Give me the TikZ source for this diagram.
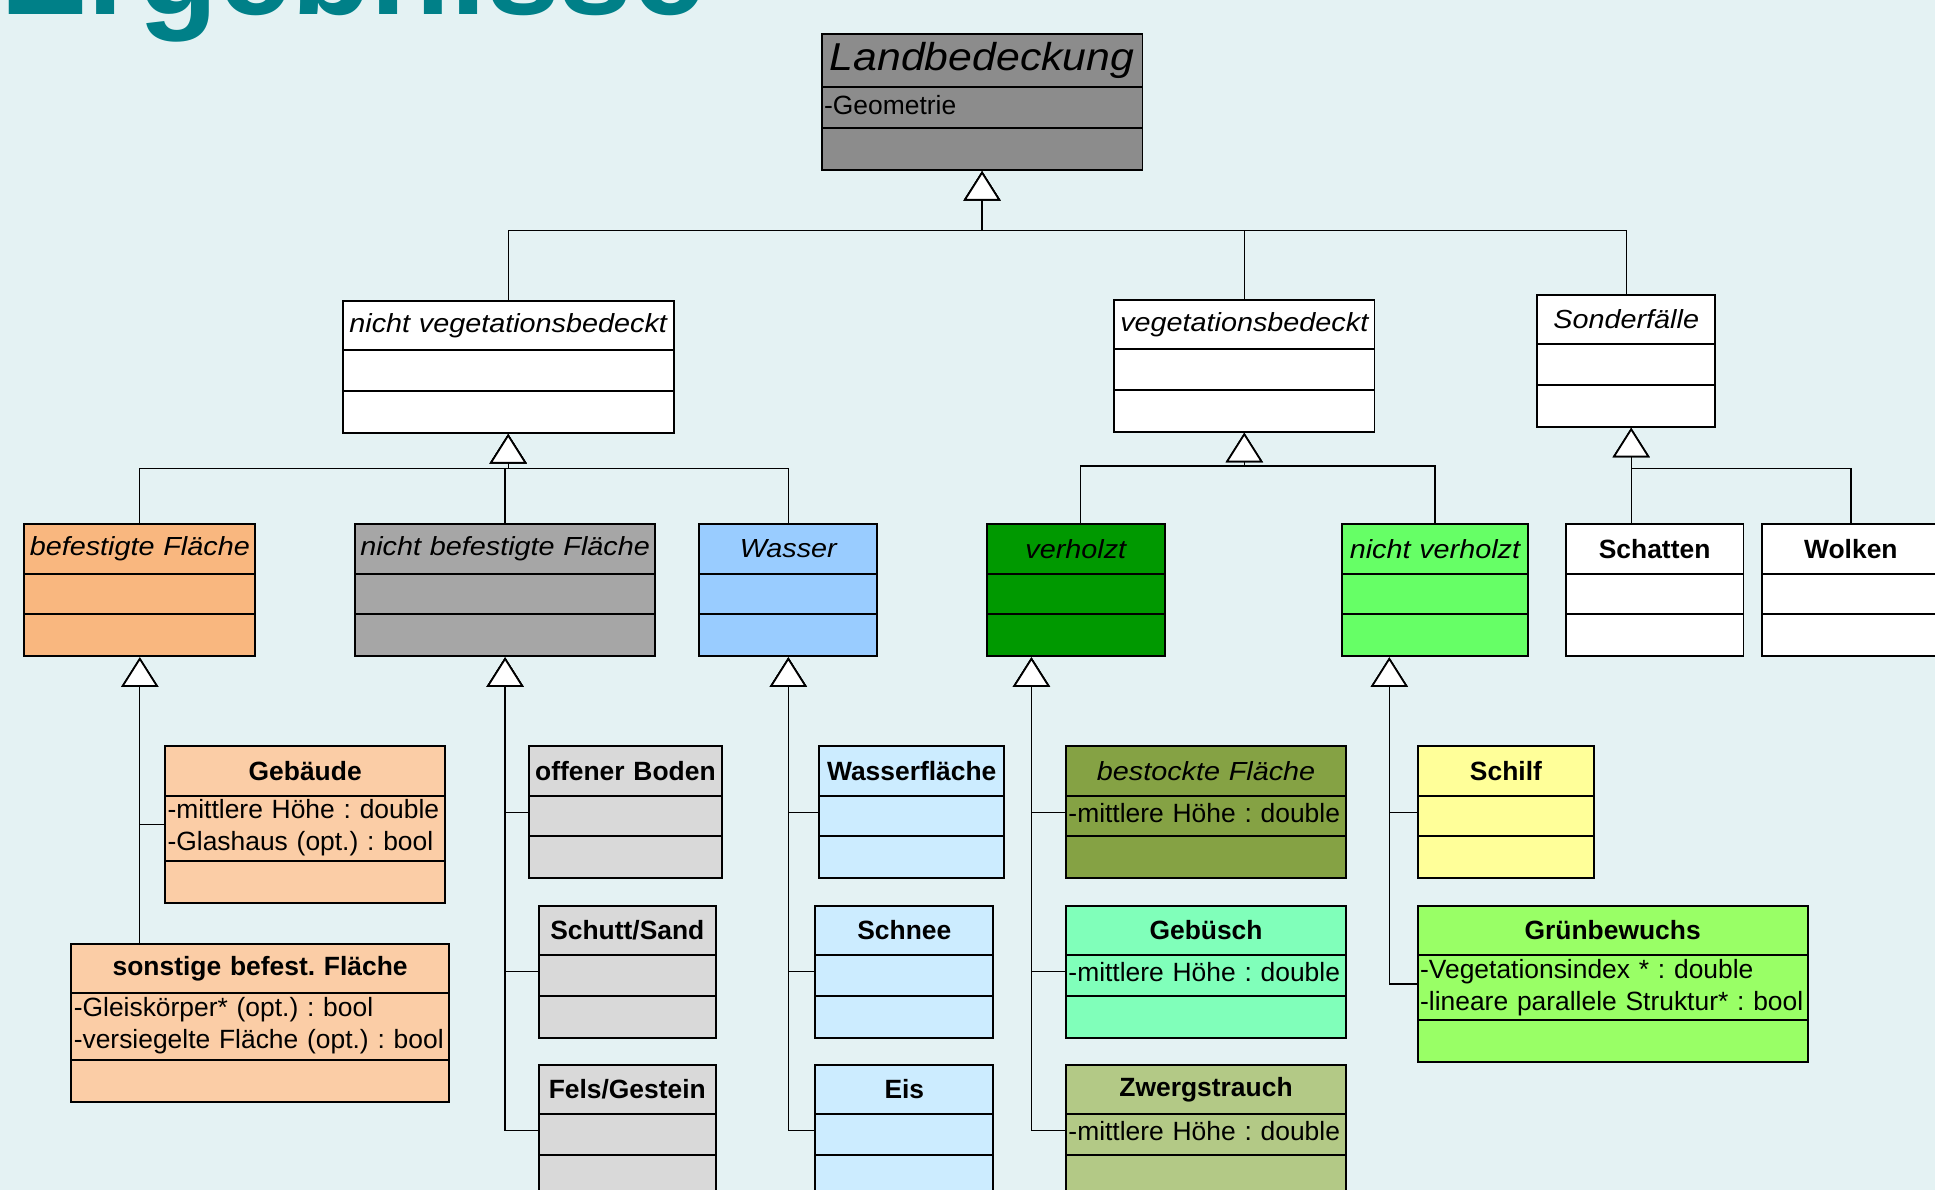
\documentclass[tikz,border=0pt]{standalone}
\usepackage{fontspec}
\setmainfont{Liberation Sans}
\newfontfamily\hdfont[FakeStretch=1.1]{Liberation Sans}
\usetikzlibrary{shapes.multipart,arrows.meta}
\frenchspacing

\definecolor{bgcol}{RGB}{228,242,243}
\definecolor{titlecol}{RGB}{0,128,136}
\definecolor{landgray}{RGB}{140,140,140}
\definecolor{befcol}{RGB}{249,183,127}
\definecolor{nbefcol}{RGB}{166,166,166}
\definecolor{wascol}{RGB}{153,204,255}
\definecolor{vhcol}{RGB}{0,153,0}
\definecolor{nvhcol}{RGB}{102,255,102}
\definecolor{peach}{RGB}{251,205,166}
\definecolor{lightgray}{RGB}{217,217,217}
\definecolor{lightblue}{RGB}{204,236,255}
\definecolor{olive}{RGB}{133,162,68}
\definecolor{mint}{RGB}{128,255,186}
\definecolor{sage}{RGB}{179,201,134}
\definecolor{paleyellow}{RGB}{255,255,153}
\definecolor{lime}{RGB}{153,255,102}

\newcommand\clshead[1]{\parbox[c][38.4pt][c]{\hsize}{\centering\bfseries #1}}
\newcommand\clsital[2][38.4pt]{\parbox[c][#1][c]{\hsize}{\centering\hdfont\itshape\fontsize{21.2}{25}\selectfont #2}}
\newcommand\clsatt[2][31.4pt]{\parbox[c][#1][c]{\hsize}{\hspace*{2pt}\begin{tabular}{@{}l@{}}#2\end{tabular}}}
\newcommand\clsops{\parbox[c][32.4pt][c]{\hsize}{\mbox{}}}

\begin{document}
\begin{tikzpicture}[x=1pt,y=-1pt,
  cls/.style={rectangle split, rectangle split parts=3, draw, line width=1.6pt, inner sep=0pt,
    anchor=north west, text width=#1, align=center, font=\fontsize{21.4}{26}\selectfont},
  gen/.style={line width=1.1pt, -{Triangle[width=30pt, length=24pt, fill=white, line width=1.4pt]}}]
\useasboundingbox (0,0) rectangle (1568,964);
\clip (0,0) rectangle (1568,964);
\fill[bgcol] (0,0) rectangle (1568,964);
\node[anchor=base west, inner sep=0pt, text=titlecol, font=\fontsize{106}{110}\selectfont\bfseries] (title) at (0,12) {Ergebnisse};

\node[cls=260pt, fill=landgray] (land) at (665,27) {\parbox[c][41.4pt][c]{\hsize}{\centering\hdfont\itshape\fontsize{31.5}{36}\selectfont Landbedeckung}\nodepart{two}\clsatt{-Geometrie}\nodepart{three}\clsops};

\node[cls=268pt, fill=white] (nvb) at (277,243) {\clsital{nicht vegetationsbedeckt}\nodepart{two}\clsatt{}\nodepart{three}\clsops};
\node[cls=211pt, fill=white] (veg) at (902,242) {\clsital{vegetationsbedeckt}\nodepart{two}\clsatt{}\nodepart{three}\clsops};
\node[cls=144pt, fill=white] (sonder) at (1245,238) {\clsital{Sonderfälle}\nodepart{two}\clsatt{}\nodepart{three}\clsops};

\node[cls=187pt, fill=befcol] (bf) at (19,424) {\clsital{befestigte Fläche}\nodepart{two}\clsatt{}\nodepart{three}\clsops};
\node[cls=243pt, fill=nbefcol] (nbf) at (287,424) {\clsital{nicht befestigte Fläche}\nodepart{two}\clsatt{}\nodepart{three}\clsops};
\node[cls=144pt, fill=wascol] (was) at (566,424) {\clsital{Wasser}\nodepart{two}\clsatt{}\nodepart{three}\clsops};
\node[cls=144pt, fill=vhcol] (vh) at (799,424) {\clsital{verholzt}\nodepart{two}\clsatt{}\nodepart{three}\clsops};
\node[cls=150pt, fill=nvhcol] (nvh) at (1087,424) {\clsital{nicht verholzt}\nodepart{two}\clsatt{}\nodepart{three}\clsops};
\node[cls=144pt, fill=white] (sch) at (1268,424) {\clshead{Schatten}\nodepart{two}\clsatt{}\nodepart{three}\clsops};
\node[cls=144pt, fill=white] (wol) at (1427,424) {\clshead{Wolken}\nodepart{two}\clsatt{}\nodepart{three}\clsops};

\node[cls=227pt, fill=peach] (geb) at (133,604) {\clshead{Gebäude}\nodepart{two}\clsatt[51.4pt]{-mittlere Höhe : double\\-Glashaus (opt.) : bool}\nodepart{three}\clsops};
\node[cls=306pt, fill=peach] (sonst) at (57,764) {\clshead{sonstige befest. Fläche}\nodepart{two}\clsatt[52.4pt]{-Gleiskörper* (opt.) : bool\\-versiegelte Fläche (opt.) : bool}\nodepart{three}\clsops};

\node[cls=156pt, fill=lightgray] (ob) at (428,604) {\clshead{offener Boden}\nodepart{two}\clsatt{}\nodepart{three}\clsops};
\node[cls=143pt, fill=lightgray] (ss) at (436,733) {\clshead{Schutt/Sand}\nodepart{two}\clsatt{}\nodepart{three}\clsops};
\node[cls=143pt, fill=lightgray] (fg) at (436,862) {\clshead{Fels/Gestein}\nodepart{two}\clsatt{}\nodepart{three}\clsops};

\node[cls=150pt, fill=lightblue] (wf) at (663,604) {\clshead{Wasserfläche}\nodepart{two}\clsatt{}\nodepart{three}\clsops};
\node[cls=144pt, fill=lightblue] (sn) at (660,733) {\clshead{Schnee}\nodepart{two}\clsatt{}\nodepart{three}\clsops};
\node[cls=144pt, fill=lightblue] (eis) at (660,862) {\clshead{Eis}\nodepart{two}\clsatt{}\nodepart{three}\clsops};

\node[cls=227pt, fill=olive] (bst) at (863,604) {\clsital{bestockte Fläche}\nodepart{two}\clsatt{-mittlere Höhe : double}\nodepart{three}\clsops};
\node[cls=227pt, fill=mint] (gbu) at (863,733) {\clshead{Gebüsch}\nodepart{two}\clsatt{-mittlere Höhe : double}\nodepart{three}\clsops};
\node[cls=227pt, fill=sage] (zw) at (863,862) {\clshead{Zwergstrauch}\nodepart{two}\clsatt{-mittlere Höhe : double}\nodepart{three}\clsops};

\node[cls=143pt, fill=paleyellow] (sf) at (1148,604) {\clshead{Schilf}\nodepart{two}\clsatt{}\nodepart{three}\clsops};
\node[cls=316pt, fill=lime] (gb) at (1148,733) {\clshead{Grünbewuchs}\nodepart{two}\clsatt[51.4pt]{-Vegetationsindex * : double\\-lineare parallele Struktur* : bool}\nodepart{three}\clsops};

\coordinate (b0) at ([yshift=-48pt]land.south);
\draw[gen] (nvb.north) |- (b0) -- (land.south);
\draw[gen] (veg.north) |- (b0) -- (land.south);
\draw[gen] (sonder.north) |- (b0) -- (land.south);

\coordinate (b1) at ([yshift=-28pt]nvb.south);
\draw[gen] (bf.north) |- (b1) -- (nvb.south);
\draw[gen] (nbf.north) |- (b1) -- (nvb.south);
\draw[gen] (was.north) |- (b1) -- (nvb.south);

\coordinate (b2) at ([yshift=-27pt]veg.south);
\draw[gen] ([xshift=4pt]vh.north) |- (b2) -- (veg.south);
\draw[gen] (nvh.north) |- (b2) -- (veg.south);

\coordinate (t3) at ([xshift=4pt]sonder.south);
\coordinate (b3) at ([yshift=-33pt]t3);
\draw[gen] (sch.north -| t3) -- (t3);
\draw[gen] (wol.north) |- (b3) -- (t3);

\draw[gen] (sonst.north -| bf.south) -- (bf.south);
\draw[gen] (geb.west) -| (bf.south);

\draw[gen] (ob.west) -| (nbf.south);
\draw[gen] (ss.west) -| (nbf.south);
\draw[gen] (fg.west) -| (nbf.south);

\draw[gen] (wf.west) -| (was.south);
\draw[gen] (sn.west) -| (was.south);
\draw[gen] (eis.west) -| (was.south);

\coordinate (t4) at ([xshift=-36pt]vh.south);
\draw[gen] (bst.west) -| (t4);
\draw[gen] (gbu.west) -| (t4);
\draw[gen] (zw.west) -| (t4);

\coordinate (t5) at ([xshift=-37pt]nvh.south);
\draw[gen] (sf.west) -| (t5);
\draw[gen] (gb.west) -| (t5);
\end{tikzpicture}
\end{document}
